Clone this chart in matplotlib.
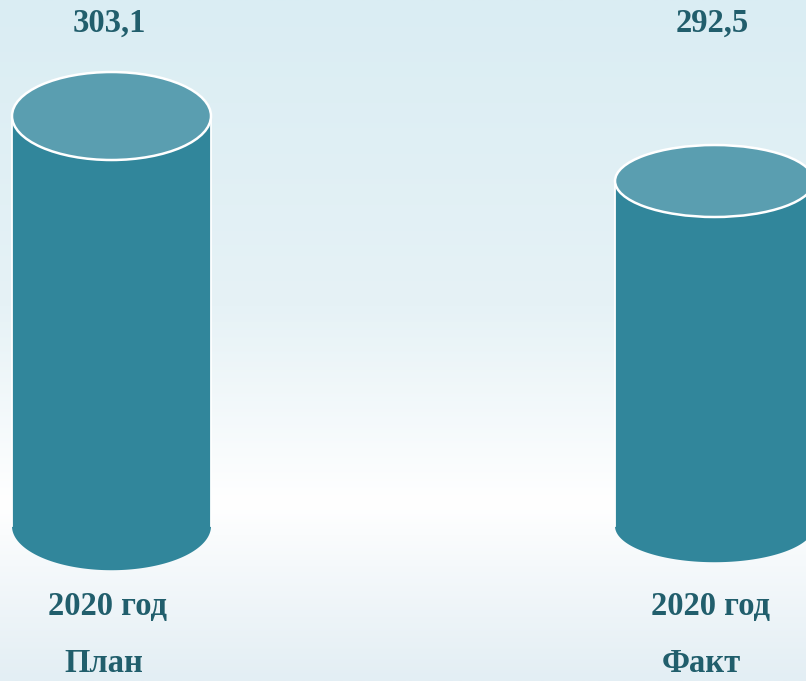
import numpy as np
import matplotlib.pyplot as plt
from matplotlib.patches import Ellipse, Polygon
from matplotlib.colors import LinearSegmentedColormap

categories = ['2020 год\n\nПлан', '2020 год\n\nФакт']
values = [303.1, 292.5]
value_labels = ['303,1', '292,5']

base = 236.2
body_color = '#31869b'
top_color = '#5a9eb0'
text_color = '#215e6c'
font = 'Liberation Serif'

fig = plt.figure(figsize=(8.06, 6.81), dpi=100)
ax = fig.add_axes([0, 0, 1, 1])
ax.set_xlim(-0.1849, 1.1517)
ax.set_ylim(210.96, 322.02)
ax.axis('off')

# background gradient (top -> bottom)
bg = LinearSegmentedColormap.from_list('bg', [
    (0.0, '#daedf3'), (0.45, '#e6f2f6'), (0.74, '#ffffff'), (1.0, '#e3eef4')])
grad = np.linspace(0, 1, 256).reshape(-1, 1)
ax.imshow(grad, cmap=bg, aspect='auto', extent=[-0.1849, 1.1517, 210.96, 322.02],
          origin='upper', zorder=0)

width = 0.33
depths = [14.35, 11.74]  # ellipse heights in data units
t = np.linspace(np.pi, 2 * np.pi, 100)
for i, (v, d) in enumerate(zip(values, depths)):
    x0 = i - width / 2
    arc = np.column_stack([i + width / 2 * np.cos(t), base + d / 2 * np.sin(t)])
    body = np.vstack([[[x0, v]], arc, [[x0 + width, v]]])
    ax.add_patch(Polygon(body, closed=True, facecolor=body_color, edgecolor='none', zorder=2))
    ax.plot([x0, x0], [base, v], color='white', lw=1.3, zorder=3)
    ax.plot([x0 + width, x0 + width], [base, v], color='white', lw=1.3, zorder=3)
    ax.add_patch(Ellipse((i, v), width, d, facecolor=top_color, edgecolor='white', lw=1.8, zorder=4))
    ax.text(i - 0.003, 0.966, value_labels[i], transform=ax.get_xaxis_transform(),
            ha='center', va='center', fontsize=23.5, fontweight='bold', color=text_color, family=font)
    ax.text(i - 0.007, 0.110, categories[i].split('\n')[0], transform=ax.get_xaxis_transform(),
            ha='center', va='center', fontsize=23.5, fontweight='bold', color=text_color, family=font)
    ax.text(i - 0.012 - 0.01 * i, 0.026, categories[i].split('\n')[-1], transform=ax.get_xaxis_transform(),
            ha='center', va='center', fontsize=23.5, fontweight='bold', color=text_color, family=font)

fig.savefig('out.png', dpi=100)
